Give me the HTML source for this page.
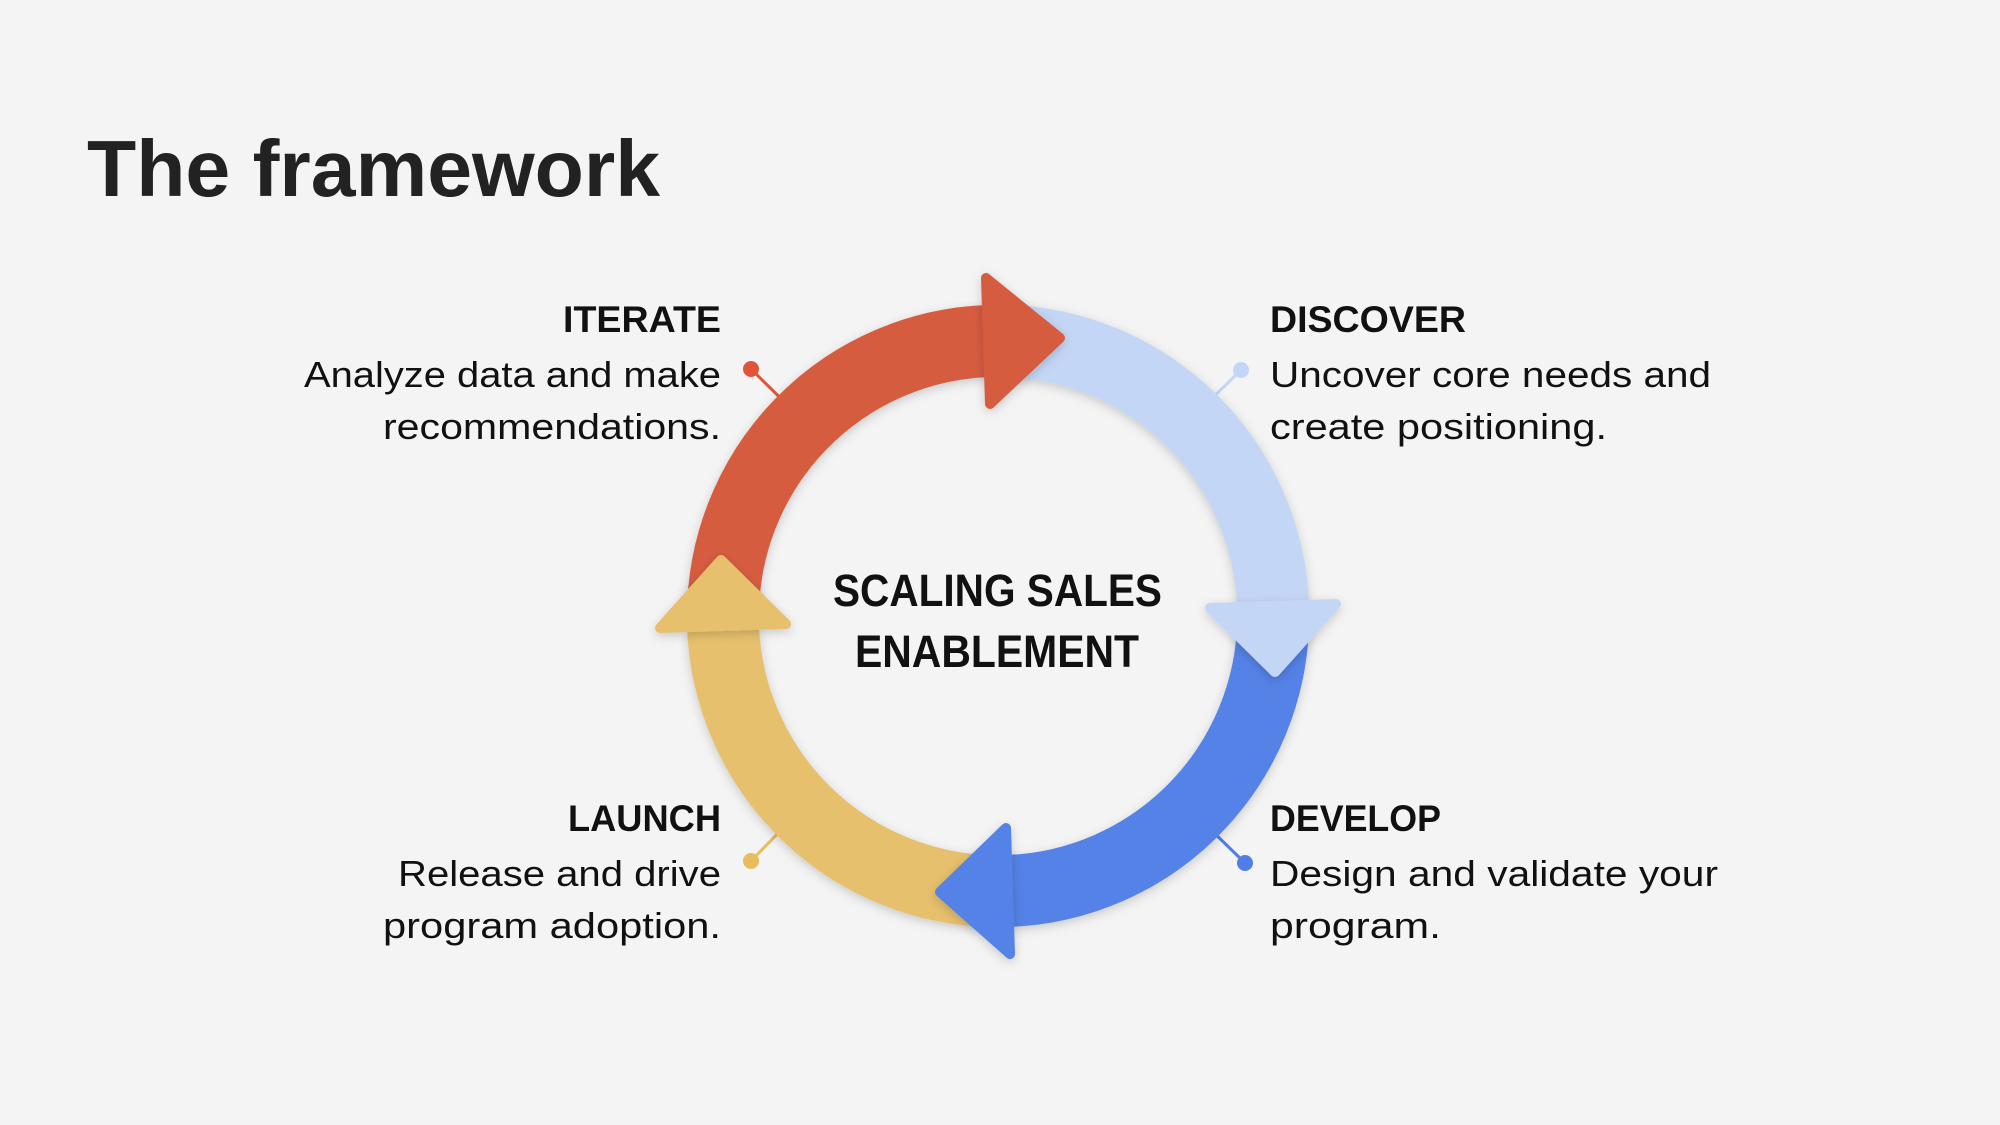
<!DOCTYPE html>
<html><head><meta charset="utf-8"><style>
html,body{margin:0;padding:0;background:#f4f4f4;}
svg{display:block;}
text{font-family:"Liberation Sans",sans-serif;fill:#111;}
</style></head><body>
<svg width="2000" height="1125" viewBox="0 0 2000 1125" xmlns="http://www.w3.org/2000/svg">
<defs>
<filter id="sh" x="-20%" y="-20%" width="140%" height="140%">
<feDropShadow dx="0" dy="3" stdDeviation="5" flood-color="#000" flood-opacity="0.18"/>
</filter>
</defs>
<rect width="2000" height="1125" fill="#f4f4f4"/>
<text x="87" y="196" font-size="80" font-weight="bold" style="fill:#222" textLength="573" lengthAdjust="spacingAndGlyphs">The framework</text>

<g stroke-width="3">
<line x1="751" y1="369" x2="823" y2="440" stroke="#e0553a"/>
<line x1="1241" y1="370" x2="1199" y2="411" stroke="#c4d6f5"/>
<line x1="1245" y1="863" x2="1167" y2="787" stroke="#4f7fe6"/>
<line x1="751" y1="861" x2="823" y2="787" stroke="#e8bd5e"/>
</g>
<circle cx="751" cy="369" r="8" fill="#e0553a"/>
<circle cx="1241" cy="370" r="8" fill="#c4d6f5"/>
<circle cx="1245" cy="863" r="8" fill="#4f7fe6"/>
<circle cx="751" cy="861" r="8" fill="#e8bd5e"/>

<g filter="url(#sh)" fill="none" stroke-width="72">
<path d="M723 616 A275 275 0 0 1 988 341" stroke="#d65c40"/>
<path d="M988 341 A275 275 0 0 1 1273 606" stroke="#c4d6f5"/>
<path d="M1273 606 A275 275 0 0 1 1008 891" stroke="#5582e6"/>
<path d="M1008 891 A275 275 0 0 1 723 626" stroke="#e6c06c"/>
</g>
<g filter="url(#sh)" stroke-width="10" stroke-linejoin="round">
<polygon points="986,278 990,404 1060,338" fill="#d65c40" stroke="#d65c40"/>
<polygon points="1336,604 1210,608 1275,672" fill="#c4d6f5" stroke="#c4d6f5"/>
<polygon points="1010,954 1006,828 940,892" fill="#5582e6" stroke="#5582e6"/>
<polygon points="660,628 786,624 721,560" fill="#e6c06c" stroke="#e6c06c"/>
</g>

<text x="833" y="606" font-size="45" font-weight="bold" textLength="329" lengthAdjust="spacingAndGlyphs">SCALING SALES</text>
<text x="855" y="667" font-size="45" font-weight="bold" textLength="284" lengthAdjust="spacingAndGlyphs">ENABLEMENT</text>

<g font-size="36" lengthAdjust="spacingAndGlyphs">
<text x="563" y="332" font-size="37" font-weight="bold" textLength="158" lengthAdjust="spacingAndGlyphs">ITERATE</text>
<text x="304" y="387" textLength="417" lengthAdjust="spacingAndGlyphs">Analyze data and make</text>
<text x="383" y="439" textLength="338" lengthAdjust="spacingAndGlyphs">recommendations.</text>

<text x="1270" y="332" font-size="37" font-weight="bold" textLength="196" lengthAdjust="spacingAndGlyphs">DISCOVER</text>
<text x="1270" y="387" textLength="441" lengthAdjust="spacingAndGlyphs">Uncover core needs and</text>
<text x="1270" y="439" textLength="337" lengthAdjust="spacingAndGlyphs">create positioning.</text>

<text x="568" y="831" font-size="37" font-weight="bold" textLength="153" lengthAdjust="spacingAndGlyphs">LAUNCH</text>
<text x="398" y="886" textLength="323" lengthAdjust="spacingAndGlyphs">Release and drive</text>
<text x="383" y="938" textLength="338" lengthAdjust="spacingAndGlyphs">program adoption.</text>

<text x="1270" y="831" font-size="37" font-weight="bold" textLength="171" lengthAdjust="spacingAndGlyphs">DEVELOP</text>
<text x="1270" y="886" textLength="448" lengthAdjust="spacingAndGlyphs">Design and validate your</text>
<text x="1270" y="938" textLength="171" lengthAdjust="spacingAndGlyphs">program.</text>
</g>
</svg>
</body></html>
